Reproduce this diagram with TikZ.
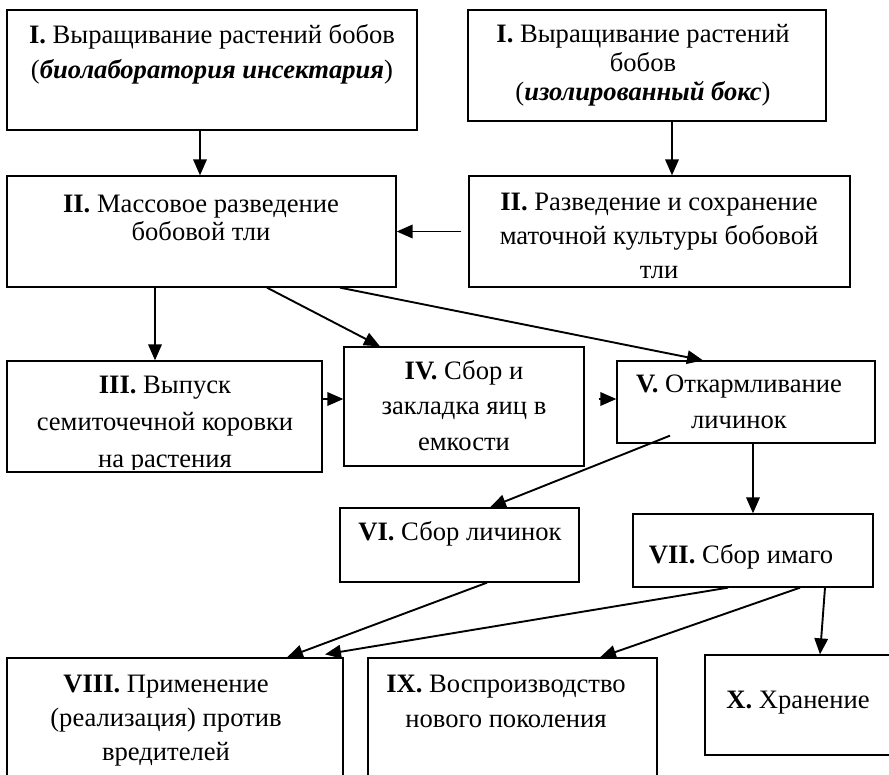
\documentclass[tikz,border=0pt]{standalone}
\usepackage{fontspec}
\setmainfont{Liberation Serif}
\usetikzlibrary{arrows.meta}
\begin{document}
\begin{tikzpicture}[x=1pt,y=-1pt,
  box/.style={draw,line width=1.3pt,inner sep=0pt},
  arr/.style={line width=1.9pt,-{Triangle[length=16pt,width=13.5pt]}},
  txt/.style={align=center,inner sep=0pt,anchor=base,font=\fontsize{26.6}{#1}\selectfont},
  txt/.default=34]
\useasboundingbox (0,0) rectangle (889,774);
\clip (0,0) rectangle (889,774);
% boxes
\node[box,minimum width=410pt,minimum height=120pt] (b1) at (212,70) {};
\node[box,minimum width=358pt,minimum height=111pt] (b1r) at (647,65.5) {};
\node[box,minimum width=389pt,minimum height=111pt] (b2) at (201.5,231.5) {};
\node[box,minimum width=381pt,minimum height=111pt] (b2r) at (659.5,231.5) {};
\node[box,minimum width=315pt,minimum height=111pt] (b3) at (164.5,416.5) {};
\node[box,minimum width=240pt,minimum height=119pt] (b4) at (464,406.5) {};
\node[box,minimum width=258pt,minimum height=82pt] (b5) at (746,402) {};
\node[box,minimum width=239pt,minimum height=74pt] (b6) at (459.5,545) {};
\node[box,minimum width=240pt,minimum height=73pt] (b7) at (753,550.5) {};
\node[box,minimum width=336pt,minimum height=142pt] (b8) at (175,729) {};
\node[box,minimum width=289pt,minimum height=142pt] (b9) at (512.5,729) {};
\node[box,minimum width=230pt,minimum height=100pt] (b10) at (820,705) {};
% texts (anchor = baseline of the last line)
\node[txt=35] (t1) at (212,78) {\textbf{I.} Выращивание растений бобов\\(\textbf{\textit{биолаборатория инсектария}})};
\node[txt=29] (t1r) at (643,100) {\textbf{I.} Выращивание растений\\бобов\\(\textbf{\textit{изолированный бокс}})};
\node[txt=28] (t2) at (201,240) {\textbf{II.} Массовое разведение\\бобовой тли};
\node[txt=34] (t2r) at (659,278) {\textbf{II.} Разведение и сохранение\\маточной культуры бобовой\\тли};
\begin{scope}
\clip (7,361) rectangle (322,469);
\node[txt=37] (t3) at (165,467) {\textbf{III.} Выпуск\\семиточечной коровки\\на растения};
\end{scope}
\node[txt=35.5] (t4) at (464,450) {\textbf{IV.} Сбор и\\закладка яиц в\\емкости};
\node[txt=36] (t5) at (739,428) {\textbf{V.} Откармливание\\личинок};
\node[txt] (t6) at (460,540) {\textbf{VI.} Сбор личинок};
\node[txt] (t7) at (741,563) {\textbf{VII.} Сбор имаго};
\node[txt=34] (t8) at (166,760) {\textbf{VIII.} Применение\\(реализация) против\\вредителей};
\node[txt=35] (t9) at (506,727) {\textbf{IX.} Воспроизводство\\нового поколения};
\node[txt] (t10) at (798,708) {\textbf{X.} Хранение};
% connectors
\draw[arr] ([xshift=-12pt]b1.south) -- ([xshift=-12pt]b1.south |- b2.north);
\draw[arr] ([xshift=25pt]b1r.south) -- ([xshift=25pt]b1r.south |- b2r.north);
\draw[arr] ([xshift=-7pt]b2r.west) -- (b2.east);
\draw[arr] ([xshift=-46.5pt]b2.south) -- ([xshift=-9.5pt]b3.north);
\draw[arr] ([xshift=65.5pt]b2.south) -- ([xshift=-84pt]b4.north);
\draw[arr] ([xshift=138.5pt]b2.south) -- ([xshift=-43pt]b5.north);
\draw[arr] ([yshift=17.5pt]b3.east) -- ([yshift=7.5pt]b4.west);
\draw[arr] ([xshift=14pt,yshift=7.5pt]b4.east) -- ([yshift=3pt]b5.west);
\draw[arr] ([xshift=-76pt,yshift=8pt]b5.south) -- ([xshift=30.5pt]b6.north);
\draw[arr] ([xshift=7pt]b5.south) -- ([xshift=0pt]b7.north);
\draw[arr] ([xshift=27.5pt]b6.south) -- ([xshift=112pt]b8.north);
\draw[arr] ([xshift=-25pt]b7.south) -- ([xshift=150pt,yshift=3pt]b8.north);
\draw[arr] ([xshift=47pt]b7.south) -- ([xshift=87.5pt]b9.north);
\draw[arr] ([xshift=72pt]b7.south) -- (b10.north);
\end{tikzpicture}
\end{document}
